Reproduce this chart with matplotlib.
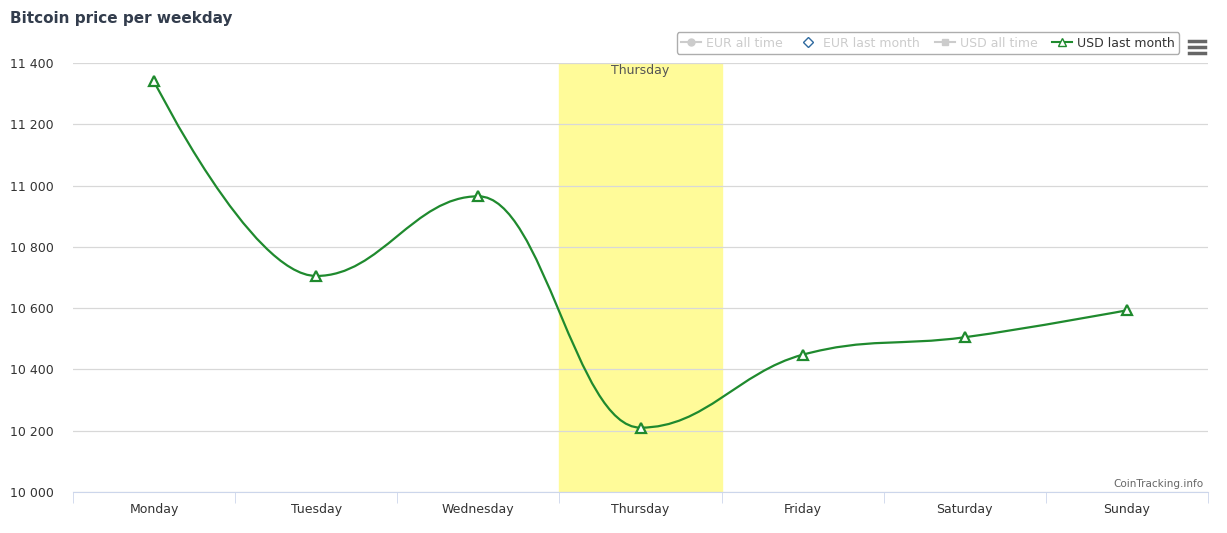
import matplotlib
matplotlib.use("Agg")
import matplotlib.pyplot as plt
import numpy as np
from matplotlib.path import Path
from matplotlib.patches import PathPatch, FancyBboxPatch
from matplotlib.lines import Line2D

days = ["Monday", "Tuesday", "Wednesday", "Thursday", "Friday", "Saturday", "Sunday"]
usd_last_month = [11340, 10705, 10965, 10210, 10448, 10505, 10593]
yticks = [10000, 10200, 10400, 10600, 10800, 11000, 11200, 11400]
legend_labels = ["EUR all time", "EUR last month", "USD all time", "USD last month"]

fig = plt.figure(figsize=(12.27, 5.33), dpi=100)
ax = fig.add_axes([73/1227, 1-492/533, (1208-73)/1227, (492-63)/533])
ax.set_xlim(-0.5, 6.5)
ax.set_ylim(10000, 11400)

# Highcharts-style spline
xs = np.arange(len(days), dtype=float)
ys = np.array(usd_last_month, dtype=float)
n = len(xs)
lc = [None]*n; rc = [None]*n
s, d = 1.5, 2.5
for i in range(1, n-1):
    lx = (s*xs[i]+xs[i-1])/d; ly = (s*ys[i]+ys[i-1])/d
    rx = (s*xs[i]+xs[i+1])/d; ry = (s*ys[i]+ys[i+1])/d
    corr = (ry-ly)*(rx-xs[i])/(rx-lx) + ys[i] - ry
    ly += corr; ry += corr
    if ly > ys[i-1] and ly > ys[i]:
        ly = max(ys[i-1], ys[i]); ry = 2*ys[i]-ly
    elif ly < ys[i-1] and ly < ys[i]:
        ly = min(ys[i-1], ys[i]); ry = 2*ys[i]-ly
    if ry > ys[i+1] and ry > ys[i]:
        ry = max(ys[i+1], ys[i]); ly = 2*ys[i]-ry
    elif ry < ys[i+1] and ry < ys[i]:
        ry = min(ys[i+1], ys[i]); ly = 2*ys[i]-ry
    lc[i] = (lx, ly); rc[i] = (rx, ry)
verts = [(xs[0], ys[0])]; codes = [Path.MOVETO]
for i in range(1, n):
    c1 = rc[i-1] if rc[i-1] else (xs[i-1], ys[i-1])
    c2 = lc[i] if lc[i] else (xs[i], ys[i])
    verts += [c1, c2, (xs[i], ys[i])]; codes += [Path.CURVE4]*3
ax.add_patch(PathPatch(Path(verts, codes), fill=False, edgecolor="#1f8a2e", lw=1.6, zorder=3))
ax.plot(xs, ys, ls="none", marker="^", ms=7, mfc="white", mec="#1f8a2e", mew=1.6, zorder=4)

ax.axvspan(2.5, 3.5, color="#fffb99", zorder=0)
ax.text(3, 11375, "Thursday", ha="center", va="center", fontsize=9, color="#555555")

ax.set_yticks(yticks)
ax.set_yticklabels([f"{v:,}".replace(",", " ") for v in yticks], fontsize=9, color="#333333")
ax.grid(axis="y", color="#d8d8d8", lw=0.9)
ax.set_axisbelow(True)
ax.set_xticks(xs)
ax.set_xticklabels(days, fontsize=9, color="#333333")
ax.set_xticks(np.arange(-0.5, 7, 1), minor=True)
ax.tick_params(axis="x", which="major", length=0, pad=8)
ax.tick_params(axis="x", which="minor", length=8, color="#ccd6eb")
ax.tick_params(axis="y", length=0, pad=14)
for sp in ["top", "right", "left"]:
    ax.spines[sp].set_visible(False)
ax.spines["bottom"].set_color("#ccd6eb")

fig.text(10/1227, 1-18/533, "Bitcoin price per weekday", fontsize=11, fontweight="bold", color="#333d4d", va="center")
fig.text(1204/1227, 1-484/533, "CoinTracking.info", fontsize=7.5, color="#666666", ha="right", va="center")

# legend
handles = [
    Line2D([], [], color="#cccccc", marker="o", ms=5),
    Line2D([], [], color="#cccccc", marker="D", ms=5, mfc="white", mec="#2f6aa0", ls="none"),
    Line2D([], [], color="#cccccc", marker="s", ms=5),
    Line2D([], [], color="#1f8a2e", marker="^", ms=6, mfc="white", mec="#1f8a2e"),
]
leg = fig.legend(handles, legend_labels, ncol=4, loc="center", bbox_to_anchor=(928/1227, 1-43/533),
                 fontsize=9, frameon=True, edgecolor="#999999", fancybox=True, handlelength=1.6,
                 columnspacing=1.2, handletextpad=0.4, borderpad=0.35)
for i, t in enumerate(leg.get_texts()):
    t.set_color("#333333" if i == 3 else "#cccccc")

# hamburger menu
for yy in [41, 47, 53]:
    fig.add_artist(Line2D([1189/1227, 1205/1227], [1-yy/533]*2, color="#666666", lw=2.5))

fig.savefig("out.png", dpi=100)
